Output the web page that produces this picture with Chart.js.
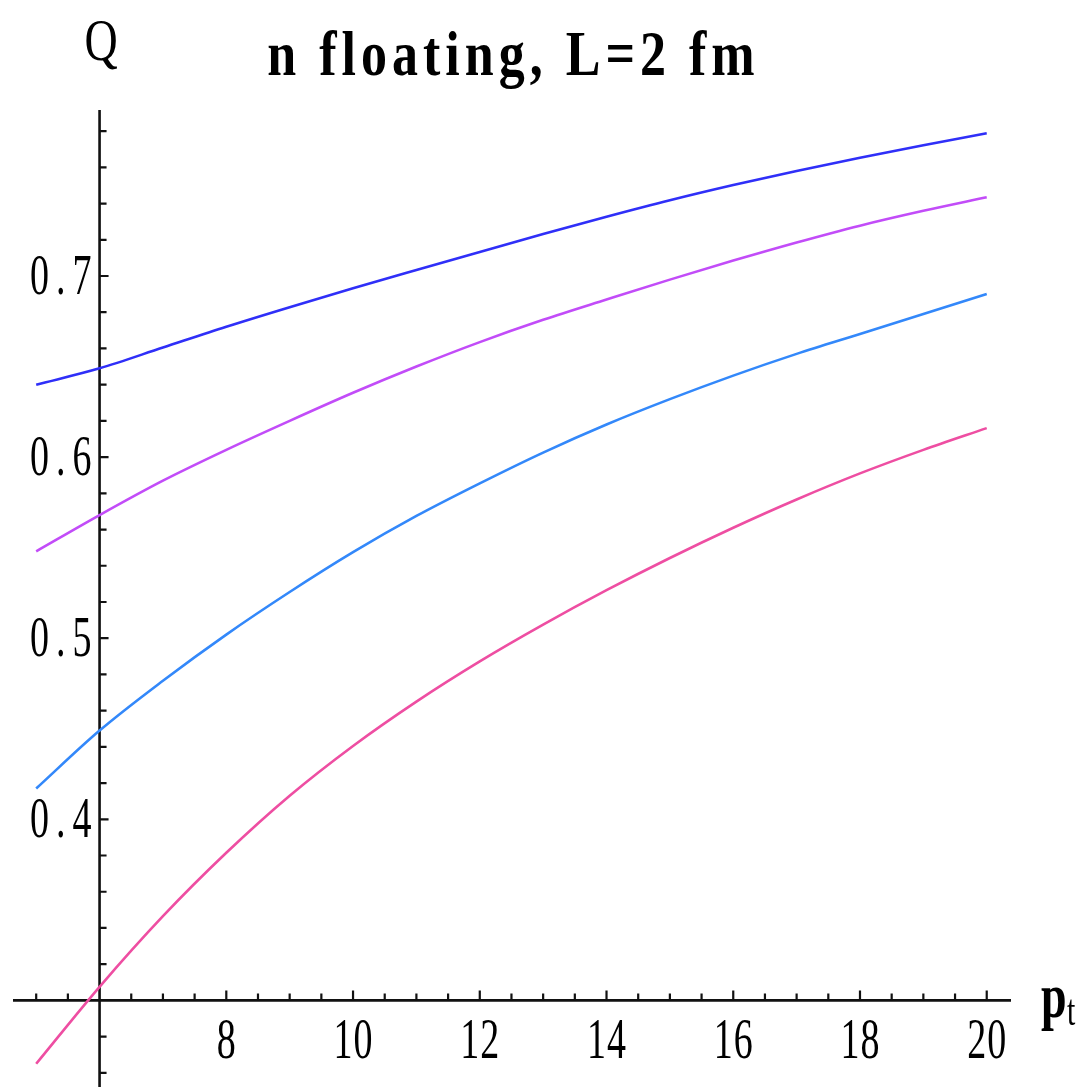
<!DOCTYPE html>
<html>
<head>
<meta charset="utf-8">
<script src="https://cdn.jsdelivr.net/npm/chart.js@4.4.1/dist/chart.umd.min.js"></script>
<style>
html,body{margin:0;padding:0;background:#fff;}
#c{display:block;}
</style>
</head>
<body>
<canvas id="c" width="1091" height="1087"></canvas>
<script>
// ---- data ----
const pt = [5, 6, 7, 8, 9, 10, 11, 12, 13, 14, 15, 16, 17, 18, 19, 20];
const qBlue   = [0.640, 0.649, 0.6605, 0.672, 0.6828, 0.6932, 0.7033, 0.7133, 0.7232, 0.7327, 0.7418, 0.7502, 0.758, 0.7653, 0.7722, 0.7788];
const qViolet = [0.548, 0.568, 0.587, 0.604, 0.620, 0.6355, 0.650, 0.6635, 0.6758, 0.687, 0.698, 0.7085, 0.7185, 0.7278, 0.736, 0.7435];
const qSky    = [0.417, 0.449, 0.4765, 0.502, 0.5255, 0.5475, 0.5675, 0.5855, 0.6025, 0.618, 0.632, 0.645, 0.657, 0.668, 0.679, 0.690];
const qPink   = [0.265, 0.3075, 0.3465, 0.3815, 0.413, 0.4405, 0.465, 0.4872, 0.5075, 0.5265, 0.5443, 0.561, 0.5766, 0.591, 0.604, 0.616];
const xMajorTicks = [8, 10, 12, 14, 16, 18, 20];
const yMajorTicks = [0.4, 0.5, 0.6, 0.7];
const xTickLabels = ['8', '10', '12', '14', '16', '18', '20'];
const yTickLabels = ['0.4', '0.5', '0.6', '0.7'];
const titleText = 'n floating, L=2 fm';
const yAxisTitle = 'Q';
const xAxisTitle = 'p';
const xAxisSub = 't';

const series = [
  {vals: qBlue,   color: '#2f2ff8'},
  {vals: qViolet, color: '#c24cf8'},
  {vals: qSky,    color: '#3388fa'},
  {vals: qPink,   color: '#ee4ea2'}
];

const toPts = vals => pt.map((x, i) => ({x: x, y: vals[i]}));

function stretchedText(ctx, str, x, y, font, align, sy, spacing) {
  spacing = spacing || 0;
  ctx.save();
  ctx.font = font;
  ctx.textAlign = align;
  ctx.textBaseline = 'alphabetic';
  ctx.fillStyle = '#000';
  let shift = 0;
  if (spacing) {
    ctx.letterSpacing = spacing + 'px';
    if (align === 'right') shift = spacing;
    else if (align === 'center') shift = spacing / 2;
  }
  ctx.translate(x + shift, y);
  ctx.scale(1, sy);
  ctx.fillText(str, 0, 0);
  ctx.restore();
}

const axesPlugin = {
  id: 'mmaAxes',
  beforeDatasetsDraw(chart) {
    const ctx = chart.ctx, xs = chart.scales.x, ys = chart.scales.y;
    const x0 = xs.getPixelForValue(6), y0 = ys.getPixelForValue(0.3);
    ctx.save();
    ctx.strokeStyle = '#111';
    ctx.lineWidth = 2.6;
    ctx.beginPath();
    ctx.moveTo(xs.left, y0); ctx.lineTo(xs.right, y0);
    ctx.moveTo(x0, ys.top); ctx.lineTo(x0, ys.bottom);
    ctx.stroke();
    ctx.lineWidth = 2.2;
    ctx.beginPath();
    for (let k = 10; k <= 40; k++) {
      const v = k / 2;
      if (v === 6) continue;
      const px = xs.getPixelForValue(v);
      const major = xMajorTicks.includes(v);
      ctx.moveTo(px, y0); ctx.lineTo(px, y0 - (major ? 10 : 7));
    }
    for (let k = 13; k <= 39; k++) {
      const v = k / 50;
      if (Math.abs(v - 0.3) < 1e-9) continue;
      const py = ys.getPixelForValue(v);
      const major = yMajorTicks.some(t => Math.abs(t - v) < 1e-9);
      ctx.moveTo(x0, py); ctx.lineTo(x0 + (major ? 9 : 7), py);
    }
    ctx.stroke();
    ctx.restore();

    const tickFont = "38px 'Liberation Serif', serif";
    xMajorTicks.forEach((v, i) => {
      stretchedText(ctx, xTickLabels[i], xs.getPixelForValue(v), y0 + 58, tickFont, 'center', 1.48, 1);
    });
    yMajorTicks.forEach((v, i) => {
      stretchedText(ctx, yTickLabels[i], x0 - 8, ys.getPixelForValue(v) + 18, tickFont, 'right', 1.48, 7);
    });
  },
  afterDraw(chart) {
    const ctx = chart.ctx;
    stretchedText(ctx, titleText, 511, 75, "bold 52px 'Liberation Serif', serif", 'center', 1.22, 5);
    stretchedText(ctx, yAxisTitle, 101, 60, "46px 'Liberation Serif', serif", 'center', 1.3);
    stretchedText(ctx, xAxisTitle, 1041, 1017, "bold 46px 'Liberation Serif', serif", 'left', 1.4);
    stretchedText(ctx, xAxisSub, 1067, 1025, "30px 'Liberation Serif', serif", 'left', 1.45);
  }
};

new Chart(document.getElementById('c'), {
  type: 'line',
  data: {
    datasets: series.map(s => ({
      data: toPts(s.vals),
      borderColor: s.color,
      borderWidth: 2.6,
      pointRadius: 0,
      fill: false,
      cubicInterpolationMode: 'monotone'
    }))
  },
  options: {
    responsive: false,
    animation: false,
    layout: {padding: {left: 13, right: 80, top: 110, bottom: 0}},
    plugins: {legend: {display: false}, tooltip: {enabled: false}, title: {display: false}},
    scales: {
      x: {type: 'linear', min: 4.634, max: 20.383, display: false},
      y: {type: 'linear', min: 0.25218, max: 0.79166, display: false}
    }
  },
  plugins: [axesPlugin]
});
</script>
</body>
</html>
